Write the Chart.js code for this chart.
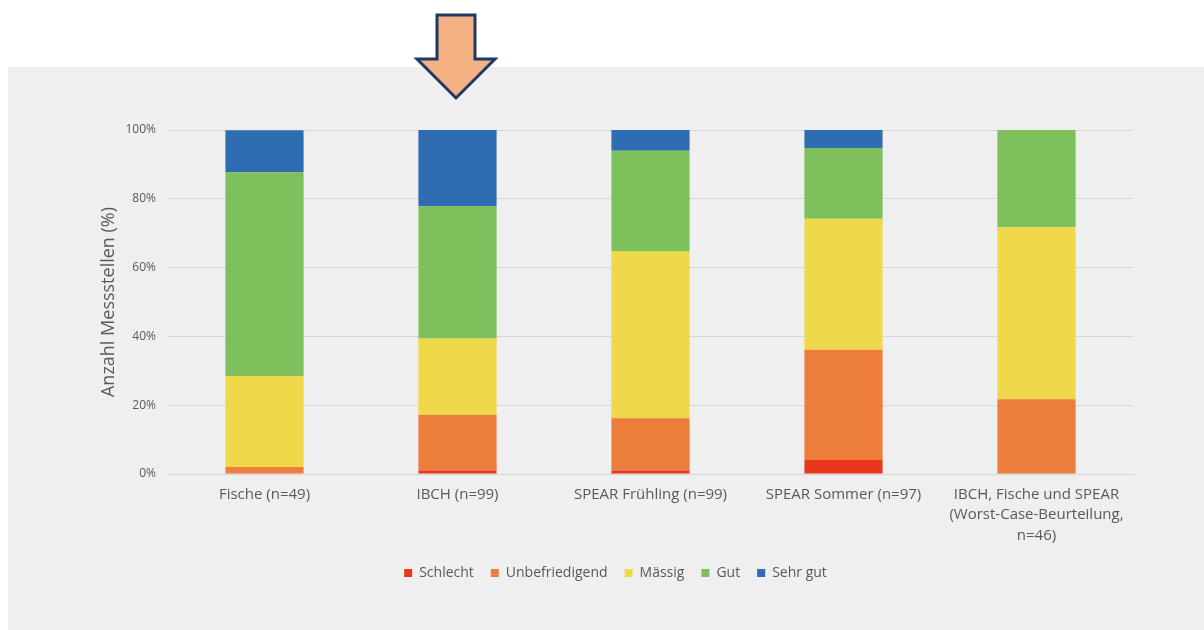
<!DOCTYPE html>
<html>
<head>
<meta charset="utf-8">
<script src="https://cdn.jsdelivr.net/npm/chart.js@4"></script>
<style>
  html, body { margin: 0; padding: 0; background: #fff; }
  #wrap { position: relative; width: 1204px; height: 630px; overflow: hidden; }
  #panel { position: absolute; left: 8px; top: 67px; width: 1196px; height: 563px; background: #efefef; }
  #arrow { position: absolute; left: 0; top: 0; }
  #c { position: absolute; left: 0; top: 0; }
</style>
</head>
<body>
<div id="wrap">
  <div id="panel"></div>
  <svg id="arrow" width="1204" height="110">
    <polygon points="437,15 475,15 475,59 495,59 456,98 417,59 437,59"
             fill="#f4b183" stroke="#1f3864" stroke-width="3" stroke-linejoin="miter"/>
  </svg>
  <canvas id="c" width="1204" height="630"></canvas>
</div>
<script>
// Kategorien (x-Achse)
const categories = [
  "Fische (n=49)",
  "IBCH (n=99)",
  "SPEAR Frühling (n=99)",
  "SPEAR Sommer (n=97)",
  ["IBCH, Fische und SPEAR", "(Worst-Case-Beurteilung,", "n=46)"]
];

// Anteile in %
const schlecht       = [0,    1.0,  1.0,  4.1,  0];
const unbefriedigend = [2.0,  16.2, 15.2, 32.0, 21.7];
const maessig        = [26.5, 22.2, 48.5, 38.1, 50.0];
const gut            = [59.2, 38.4, 29.3, 20.6, 28.3];
const sehrGut        = [12.2, 22.2, 6.1,  5.2,  0];

const yTicks = [0, 20, 40, 60, 80, 100];

const font = "'Open Sans', 'DejaVu Sans', sans-serif";
Chart.defaults.font.family = font;
Chart.defaults.color = '#595959';

const ctx = document.getElementById('c').getContext('2d');
new Chart(ctx, {
  type: 'bar',
  data: {
    labels: categories,
    datasets: [
      { label: 'Schlecht', data: schlecht, backgroundColor: '#e8371d' },
      { label: 'Unbefriedigend', data: unbefriedigend, backgroundColor: '#ed7d3a' },
      { label: 'Mässig', data: maessig, backgroundColor: '#f0d84b' },
      { label: 'Gut', data: gut, backgroundColor: '#7ec05b' },
      { label: 'Sehr gut', data: sehrGut, backgroundColor: '#2f6db3' }
    ]
  },
  options: {
    responsive: false,
    animation: false,
    layout: { padding: { left: 98, right: 71, top: 130, bottom: 40 } },
    datasets: {
      bar: { categoryPercentage: 1, barPercentage: 0.405, borderWidth: 0 }
    },
    scales: {
      x: {
        stacked: true,
        grid: { display: false, drawTicks: false },
        border: { display: true, color: '#d4d4d4', width: 1 },
        ticks: {
          padding: 10,
          maxRotation: 0,
          autoSkip: false,
          font: { size: 15, lineHeight: 1.37 },
          color: '#595959'
        },
        afterFit: (s) => { s.height = 75; }
      },
      y: {
        stacked: true,
        min: 0,
        max: 100,
        afterBuildTicks: (s) => { s.ticks = yTicks.map(v => ({ value: v })); },
        grid: { color: '#d6d6d6', lineWidth: 1, drawTicks: false },
        border: { display: false },
        ticks: {
          padding: 12,
          font: { size: 12 },
          color: '#595959',
          callback: (v) => v + '%'
        },
        title: {
          display: true,
          text: 'Anzahl Messstellen (%)',
          font: { size: 18 },
          color: '#595959',
          padding: 0
        },
        afterFit: (s) => { s.width = 70; }
      }
    },
    plugins: {
      legend: {
        position: 'bottom',
        labels: {
          boxWidth: 8,
          boxHeight: 8,
          padding: 17,
          font: { size: 14 },
          color: '#595959'
        }
      },
      tooltip: { enabled: false }
    }
  }
});
</script>
</body>
</html>
